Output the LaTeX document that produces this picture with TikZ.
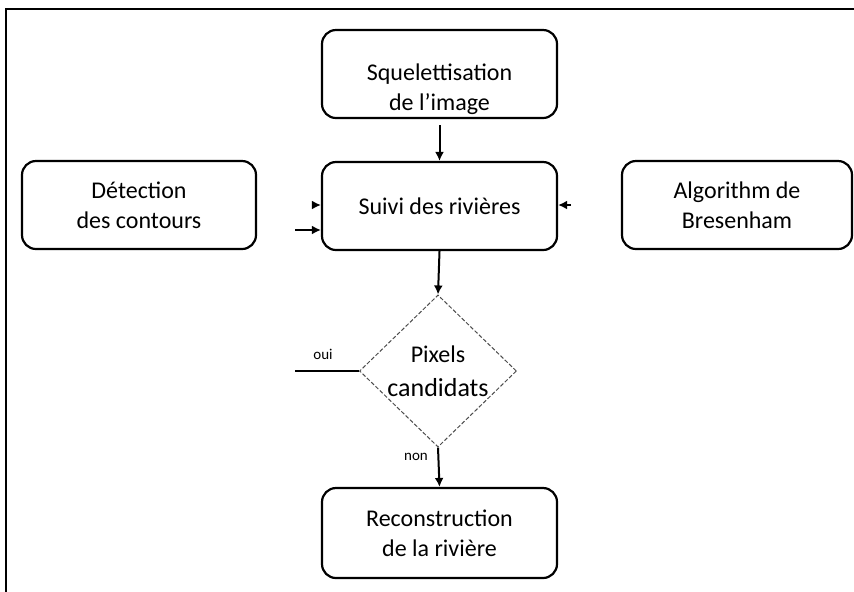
\documentclass[tikz,border=0pt]{standalone}
\usepackage{fontspec}
\setmainfont{Carlito}
\usetikzlibrary{shapes.geometric,arrows.meta}
\begin{document}
\begin{tikzpicture}[x=0.5pt,y=-0.5pt,
  box/.style={draw=black,line width=1.1pt,rounded corners=7pt,minimum width=117.5pt,minimum height=44pt,align=center,font=\fontsize{12}{15}\selectfont,inner sep=0pt},
  dia/.style={diamond,draw=black!70,line width=0.5pt,dash pattern=on 2pt off 1pt,minimum width=78.5pt,minimum height=76pt,aspect=1,inner sep=0pt,align=center,font=\fontsize{12}{14}\selectfont},
  arr/.style={-{Latex[length=4.5pt,width=4.5pt]},line width=1pt},
  lbl/.style={font=\fontsize{7.5}{9}\selectfont,inner sep=0pt}]
\useasboundingbox (0,0) rectangle (854,591);
\draw[line width=0.8pt] (6,600) -- (6,9) -- (860,9);
\node[box] (sq) at (439.5,74) {\raisebox{-18pt}[0pt][0pt]{\begin{tabular}[b]{@{}c@{}}Squelettisation\\de l’image\end{tabular}}};
\node[box] (sv) at (439.5,206) {Suivi des rivières};
\node[box,minimum width=117pt] (dc) at (139,205) {Détection\\des contours};
\node[box,minimum width=115pt] (ab) at (737,205) {Algorithm de\\Bresenham};
\node[dia] (px) at (438,371) {Pixels\\[3pt]\fontsize{13}{14}\selectfont candidats};
\node[box,minimum height=45pt] (rc) at (439.5,533) {Reconstruction\\de la rivière};
\coordinate (lin) at (295,230);
\coordinate (lhd) at (312,205);
\coordinate (rhd) at (571,205);
\coordinate (ou) at (295,371);
\draw[arr,shorten <=3pt] (sq.south) -- (sv.north);
\draw[arr] (lin) -- (lin -| sv.west);
\draw[arr] (lhd) -- (lhd -| sv.west);
\draw[arr] (rhd) -- (rhd -| sv.east);
\draw[arr] (sv.south) -- (px.north);
\draw[line width=1pt] (px.west) -- (ou);
\node[lbl] (oui) at (323,354) {oui};
\draw[arr] (px.south) -- (rc.north);
\node[lbl] (non) at (416,457) {non};
\end{tikzpicture}
\end{document}
